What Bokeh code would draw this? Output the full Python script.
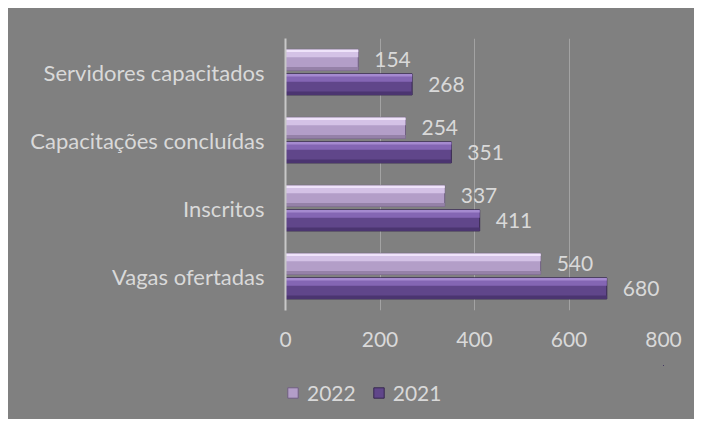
from bokeh.plotting import figure
from bokeh.layouts import column
from bokeh.models import ColumnDataSource, FactorRange, Range1d, Legend, LegendItem, FixedTicker
from bokeh.transform import dodge
from bokeh.core.properties import value
from bokeh.embed import file_html
from bokeh.resources import INLINE

categories = ["Vagas ofertadas", "Inscritos", "Capacitações concluídas", "Servidores capacitados"]
v2022 = [540, 337, 254, 154]
v2021 = [680, 411, 351, 268]
x_ticks = [0, 200, 400, 600, 800]
series = ["2022", "2021"]

FONT = "Lato"
TXT = "#d9d9d9"
BG = "#808080"
NUM_SIZE = "21px"
CAT_SIZE = "22px"

src = ColumnDataSource(dict(cat=categories, v2022=v2022, v2021=v2021,
                            l2022=[str(v) for v in v2022], l2021=[str(v) for v in v2021]))

p = figure(width=686, height=357, output_backend="svg", toolbar_location=None,
           y_range=FactorRange(*categories, range_padding=0), x_range=Range1d(0, 800),
           min_border_left=277, min_border_right=31, min_border_top=30, min_border_bottom=55)
p.styles = {"background-color": BG}
p.background_fill_color = None
p.border_fill_color = None
p.outline_line_color = None

# bar styles: (offset, base, light, lighter, dark, outline)
styles = {
    "2022": (0.185, "#b39ec8", "#d4c2e6", "#efe3fa", "#9581a8", "#6f5f80"),
    "2021": (-0.175, "#60468a", "#8466b4", "#a58ad0", "#4b3570", "#36274f"),
}
H = 0.31
for s in series:
    off, base, light, lighter, dark, outline = styles[s]
    col = "v" + s
    p.hbar(y=dodge("cat", off, range=p.y_range), right=col, left=0, height=H,
           fill_color=base, line_color=outline, line_width=1, source=src)
    p.hbar(y=dodge("cat", off + 0.095, range=p.y_range), right=col, left=0, height=0.11,
           fill_color=light, line_color=None, source=src)
    p.hbar(y=dodge("cat", off + 0.135, range=p.y_range), right=col, left=0, height=0.035,
           fill_color=lighter, line_color=None, source=src)
    p.hbar(y=dodge("cat", off - 0.13, range=p.y_range), right=col, left=0, height=0.05,
           fill_color=dark, line_color=None, source=src)
    p.text(x=col, y=dodge("cat", off, range=p.y_range), text="l" + s, source=src,
           x_offset=16, text_baseline="middle", text_align="left",
           text_color=TXT, text_font=value(FONT), text_font_size=NUM_SIZE)

p.xgrid.ticker = FixedTicker(ticks=x_ticks)
p.xgrid.grid_line_color = "#a3a3a3"
p.xgrid.grid_line_width = 1
p.ygrid.grid_line_color = None

p.xaxis.ticker = FixedTicker(ticks=x_ticks)
p.xaxis.axis_line_color = None
p.xaxis.major_tick_line_color = None
p.xaxis.minor_tick_line_color = None
p.xaxis.major_label_standoff = 15
p.xaxis.major_label_text_color = TXT
p.xaxis.major_label_text_font = FONT
p.xaxis.major_label_text_font_size = NUM_SIZE

p.yaxis.axis_line_color = "#c8c8c8"
p.yaxis.axis_line_width = 2
p.yaxis.major_tick_line_color = None
p.yaxis.minor_tick_line_color = None
p.yaxis.major_label_standoff = 15
p.yaxis.major_label_text_color = TXT
p.yaxis.major_label_text_font = FONT
p.yaxis.major_label_text_font_size = CAT_SIZE

# legend strip below the chart (its frame is aligned with the chart's frame)
lf = figure(width=686, height=54, output_backend="svg", toolbar_location=None,
            x_axis_location=None, y_axis_location=None, min_border=0,
            x_range=Range1d(0, 1), y_range=Range1d(0, 1))
lf.styles = {"background-color": BG}
lf.background_fill_color = None
lf.border_fill_color = None
lf.outline_line_color = None
lf.grid.visible = False
items = []
for s in series:
    off, base, light, lighter, dark, outline = styles[s]
    # same series data, lying entirely outside this strip's ranges: only the legend swatch shows
    r = lf.hbar(y="v" + s, left="v" + s, right="v" + s, height=0.3, source=src,
                fill_color=base, line_color=outline)
    items.append(LegendItem(label=s, renderers=[r]))
legend = Legend(items=items, orientation="horizontal", location=(1, 14),
                background_fill_alpha=0, border_line_color=None,
                label_text_color=TXT, label_text_font=FONT, label_text_font_size=NUM_SIZE,
                glyph_width=13, glyph_height=13, label_standoff=8, spacing=16,
                margin=0, padding=4)
lf.add_layout(legend, "center")

layout = column(p, lf, margin=(8, 0, 0, 8), spacing=0)
layout.styles = {"background-color": BG}
open("out.html", "w").write(file_html(layout, INLINE))
